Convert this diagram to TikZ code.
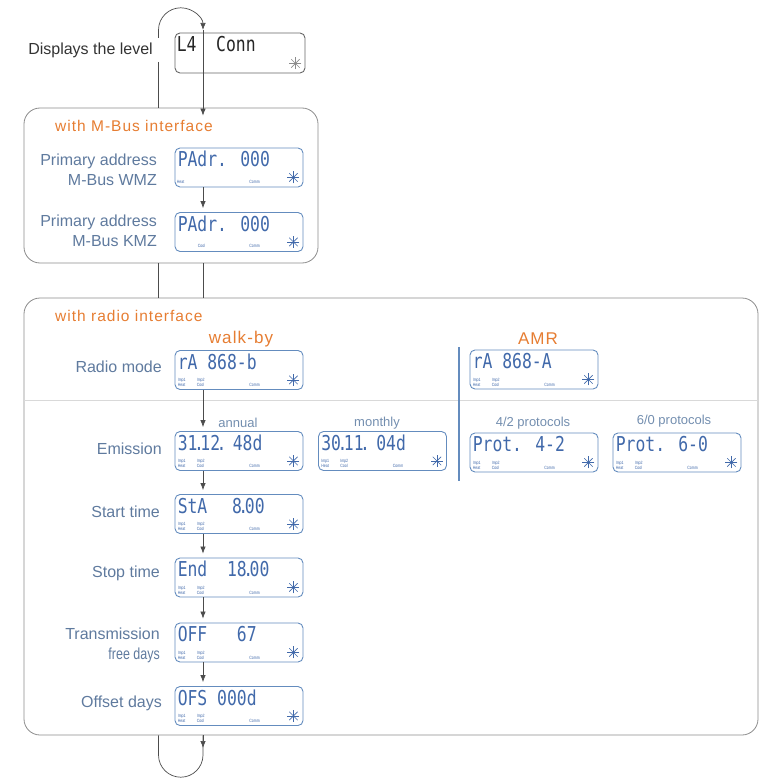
\documentclass[tikz,border=0pt]{standalone}
\usepackage{fontspec}
\setmainfont{Liberation Sans}
\newfontfamily\lcdfont[FakeStretch=0.8]{DejaVu Sans Mono}
\newfontfamily\narrowfont[FakeStretch=0.78]{Liberation Sans}
\newfontfamily\headfont[LetterSpace=6.5]{Liberation Sans}
\newcommand{\lcddot}{\kern-3.5pt.\kern-3.5pt}
\usetikzlibrary{arrows.meta}
\definecolor{lcdblue}{RGB}{65,105,170}
\definecolor{lcdframe}{RGB}{100,140,190}
\definecolor{labelblue}{RGB}{95,122,158}
\definecolor{colblue}{RGB}{115,142,175}
\definecolor{headorange}{RGB}{230,125,50}
\definecolor{framegray}{RGB}{140,140,140}
\begin{document}
\begin{tikzpicture}[x=1pt,y=-1pt,
    lcd/.style={draw=lcdframe, line width=0.9pt, rounded corners=5pt, minimum width=128pt, minimum height=39pt, inner sep=0pt},
    lcdtext/.style={text=lcdblue, font=\lcdfont\fontsize{20.5}{20.5}\selectfont, inner sep=0pt, anchor=base west},
    lcdsmall/.style={text=lcdblue, font=\narrowfont\fontsize{4.6}{4.8}\selectfont, inner sep=0pt, align=left},
    grpbox/.style={draw=framegray, line width=0.8pt, rounded corners=16pt, inner sep=0pt},
    rowlbl/.style={text=labelblue, font=\fontsize{16}{20.5}\selectfont, anchor=east, align=right, inner sep=0pt},
    orangehead/.style={text=headorange, font=\headfont\fontsize{15.5}{17}\selectfont, inner sep=0pt},
    colhd/.style={text=colblue, font=\fontsize{13}{15}\selectfont, inner sep=0pt},
    flow/.style={draw=black!70, line width=0.7pt},
    arr/.style={flow, -{Latex[length=7pt,width=5.5pt]}, shorten >=4pt}]
\useasboundingbox (0,0) rectangle (763,778);

% group frames
\node[grpbox, minimum width=294pt, minimum height=155pt] (mbus) at (171,185.5) {};
\node[grpbox, minimum width=734pt, minimum height=437pt] (radio) at (391,516.5) {};
\draw[black!15, line width=0.8pt] (radio.west |- 0,400) -- (radio.east |- 0,400);
\draw[lcdframe, line width=1.4pt] (459,347) -- (459,481);

% level display
\node[draw=black!60, line width=0.9pt, rounded corners=5pt, minimum width=130pt, minimum height=40pt, inner sep=0pt] (lvl) at (240,53) {};
\node[lcdtext, text=black!85] at ([shift={(2,19)}]lvl.north west) {L4~~Conn};
\node[text=black!80, font=\fontsize{16}{18}\selectfont, anchor=east, inner sep=0pt] (lvltxt) at (153,50) {Displays the level};

% displays
\node[lcd] (pwmz) at (239,167.5) {};
\node[lcd] (pkmz) at (239,232) {};
\node[lcd] (rwb) at (239,370) {};
\node[lcd] (ramr) at (534,369.5) {};
\node[lcd] (eann) at (239,451) {};
\node[lcd] (emon) at (382.5,451) {};
\node[lcd] (p42) at (534,452.5) {};
\node[lcd] (p60) at (677,452.5) {};
\node[lcd] (sta) at (239,514) {};
\node[lcd] (stp) at (239,577.5) {};
\node[lcd] (off) at (239,642.5) {};
\node[lcd] (ofs) at (239,706) {};

\node[lcdtext] at ([shift={(3,19)}]pwmz.north west) {PAdr. 000};
\node[lcdtext] at ([shift={(3,19)}]pkmz.north west) {PAdr. 000};
\node[lcdtext] at ([shift={(3,19)}]rwb.north west) {rA 868-b};
\node[lcdtext] at ([shift={(3,19)}]ramr.north west) {rA 868-A};
\node[lcdtext] at ([shift={(3,19)}]eann.north west) {31\lcddot12\lcddot~48d};
\node[lcdtext] at ([shift={(3,19)}]emon.north west) {30\lcddot11\lcddot~04d};
\node[lcdtext] at ([shift={(3,19)}]p42.north west) {Prot. 4-2};
\node[lcdtext] at ([shift={(3,19)}]p60.north west) {Prot. 6-0};
\node[lcdtext] at ([shift={(3,19)}]sta.north west) {StA~~\kern5pt 8\lcddot00};
\node[lcdtext] at ([shift={(3,19)}]stp.north west) {End~~18\lcddot00};
\node[lcdtext] at ([shift={(3,19)}]off.north west) {OFF~~~67};
\node[lcdtext] at ([shift={(3,19)}]ofs.north west) {OFS 000d};

\node[lcdsmall, anchor=south west] at ([shift={(2,-4)}]pwmz.south west) {Heat};
\node[lcdsmall, anchor=south west] at ([shift={(23,-4)}]pkmz.south west) {Cool};
\foreach \n in {pwmz,pkmz}
  \node[lcdsmall, anchor=south] at ([shift={(80,-4)}]\n.south west) {Comm};
\foreach \n in {rwb,ramr,eann,emon,p42,p60,sta,stp,off,ofs}{
  \node[lcdsmall, anchor=south west] at ([shift={(3,-3)}]\n.south west) {Imp1\\Heat};
  \node[lcdsmall, anchor=south west] at ([shift={(22,-3)}]\n.south west) {Imp2\\Cool};
  \node[lcdsmall, anchor=south] at ([shift={(80,-3)}]\n.south west) {Comm};
}
\foreach \n/\c in {lvl/black!45,pwmz/lcdblue,pkmz/lcdblue,rwb/lcdblue,ramr/lcdblue,eann/lcdblue,emon/lcdblue,p42/lcdblue,p60/lcdblue,sta/lcdblue,stp/lcdblue,off/lcdblue,ofs/lcdblue}{
  \coordinate (s) at ([shift={(-10,-10)}]\n.south east);
  \foreach \a in {0,45,90,135}
    \draw[\c, line width=0.6pt] ([shift={(\a:6)}]s) -- ([shift={(\a+180:6)}]s);
}

% headings and labels
\node[orangehead, anchor=west] (hmbus) at (55,126) {with M-Bus interface};
\node[orangehead, anchor=west] (hradio) at (55,316) {with radio interface};
\node[orangehead, font=\headfont\fontsize{17}{19}\selectfont] (hwalk) at (241,339) {walk-by};
\node[orangehead, font=\headfont\fontsize{17}{19}\selectfont] (hamr) at (538,339) {AMR};
\node[colhd] (cann) at (238,423) {annual};
\node[colhd] (cmon) at (377,423) {monthly};
\node[colhd] (c42) at (533,423) {4/2 protocols};
\node[colhd] (c60) at (674,421) {6/0 protocols};

\node[rowlbl] (lwmz) at (157,170) {Primary address\\M-Bus WMZ};
\node[rowlbl] (lkmz) at (157,231) {Primary address\\M-Bus KMZ};
\node[rowlbl] (lrad) at (162,367) {Radio mode};
\node[rowlbl] (lemi) at (162,449) {Emission};
\node[rowlbl] (lsta) at (160,512) {Start time};
\node[rowlbl] (lstp) at (160,573) {Stop time};
\node[rowlbl] (ltra) at (160,645.5) {Transmission\\{\narrowfont free days}};
\node[rowlbl] (lofs) at (162,703) {Offset days};

% flow lines
\coordinate (loopL) at (158.5,30);
\coordinate (loopR) at (203,30);
\draw[flow, -{Latex[length=7pt,width=5.5pt]}] (loopL) .. controls (158.5,17.7) and (168.5,7.8) .. (180.75,7.8)
  .. controls (193,7.8) and (203,17.7) .. (loopR);
\draw[flow] (loopL) -- (158.5,38);
\draw[flow] (158.5,62) -- (loopL |- mbus.north);
\draw[arr, shorten >=-8pt] (loopR) -- (loopR |- mbus.north);
\draw[arr] (pwmz.south -| loopR) -- (pkmz.north -| loopR);
\draw[flow] (mbus.south -| loopL) -- (radio.north -| loopL);
\draw[flow] (mbus.south -| loopR) -- (radio.north -| loopR);
\draw[arr] (rwb.south -| loopR) -- (eann.north -| loopR);
\draw[arr] (eann.south -| loopR) -- (sta.north -| loopR);
\draw[arr] (sta.south -| loopR) -- (stp.north -| loopR);
\draw[arr] (stp.south -| loopR) -- (off.north -| loopR);
\draw[arr] (off.south -| loopR) -- (ofs.north -| loopR);
\coordinate (botR) at (203,755);
\coordinate (botL) at (158.5,755);
\draw[arr, shorten >=7pt] (radio.south -| loopR) -- (botR);
\draw[flow] (radio.south -| loopR) -- (botR) .. controls (203,767.3) and (193,777.2) .. (180.75,777.2)
  .. controls (168.5,777.2) and (158.5,767.3) .. (botL) -- (radio.south -| loopL);
\end{tikzpicture}
\end{document}
